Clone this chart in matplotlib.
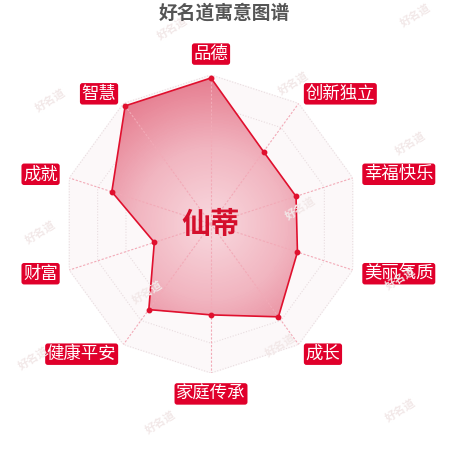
import numpy as np
import matplotlib
matplotlib.use("Agg")
import matplotlib.pyplot as plt
from matplotlib.colors import LinearSegmentedColormap

plt.rcParams['font.family'] = ['Noto Sans CJK SC', 'DejaVu Sans']

# data (max 100), clockwise from the top
categories = ['品德', '创新独立', '幸福快乐', '美丽气质', '成长',
              '家庭传承', '健康平安', '财富', '成就', '智慧']
values = [98, 60, 60, 61, 77, 61, 71, 40, 70, 98]
name = '仙蒂'
title = '好名道寓意图谱'
watermark = '好名道'
wm_pos = [(172, 28), (415, 15), (293, 83), (50, 100), (410, 143),
          (40, 232), (400, 278), (300, 208), (147, 292), (33, 358),
          (280, 345), (160, 422), (400, 410)]

RED = '#e0002b'
n = len(categories)
theta = np.linspace(0, 2 * np.pi, n, endpoint=False)
theta_c = np.append(theta, theta[0])
vals_c = np.append(values, values[0])

fig = plt.figure(figsize=(4.5, 4.5), dpi=100)

# watermarks behind everything
for (x, y) in wm_pos:
    fig.text(x / 450, 1 - y / 450, watermark, fontsize=8, color='#f2e8e8',
             rotation=32, ha='center', va='center', fontweight='bold')

ax = fig.add_axes([62 / 450, (450 - 224 - 149) / 450, 298 / 450, 298 / 450],
                  projection='polar')
ax.set_theta_zero_location('N')
ax.set_theta_direction(-1)
ax.set_ylim(0, 100)
ax.axis('off')

# background area and rings
ax.fill(theta_c, np.full(n + 1, 100), color='#fcf8f9', zorder=0)
for k in range(1, 6):
    ax.plot(theta_c, np.full(n + 1, 20 * k), color='#e8dcdf', lw=0.8,
            ls=(0, (1, 1.5)), zorder=1)

# filled polygon with radial gradient
poly, = ax.fill(theta_c, vals_c, facecolor='none', edgecolor='none', zorder=2)
cmap = LinearSegmentedColormap.from_list('g', ['#f8d8de', '#f1b5c0', '#e57a8d'])
tg = np.linspace(0, 2 * np.pi, 361)
rg = np.linspace(0, 100, 101)
T, Rr = np.meshgrid(tg, rg)
mesh = ax.pcolormesh(T, Rr, Rr[:-1, :-1], cmap=cmap, vmin=0, vmax=100,
                     shading='flat', zorder=2)
mesh.set_clip_path(poly)

# spokes
for t in theta:
    ax.plot([t, t], [0, 100], color='#f2aab7', lw=0.8, ls=(0, (2, 1.5)),
            zorder=3)

ax.plot(theta_c, vals_c, color='#e0102e', lw=1.2, zorder=4)
ax.plot(theta, values, 'o', color='#e0102e', ms=3.2, zorder=5)

# category labels
for t, lab in zip(theta, categories):
    deg = np.degrees(t) % 360
    if deg < 1 or deg > 359:
        ha, va = 'center', 'bottom'
    elif abs(deg - 180) < 1:
        ha, va = 'center', 'top'
    elif deg < 180:
        ha, va = 'left', 'center'
    else:
        ha, va = 'right', 'center'
    ax.text(t, 108, lab, color='white', fontsize=12.5, ha=ha, va=va,
            clip_on=False, zorder=6,
            bbox=dict(boxstyle='round,pad=0.1,rounding_size=0.15',
                      facecolor=RED, edgecolor='none'))

ax.text(0, 0, name, color='#d40f2c', fontsize=21, fontweight='bold',
        ha='center', va='center', zorder=7)

fig.text(224.5 / 450, 1 - 13 / 450, title, color='#555555', fontsize=13.5,
         fontweight='bold', ha='center', va='center')

fig.savefig('out.png', dpi=100)
